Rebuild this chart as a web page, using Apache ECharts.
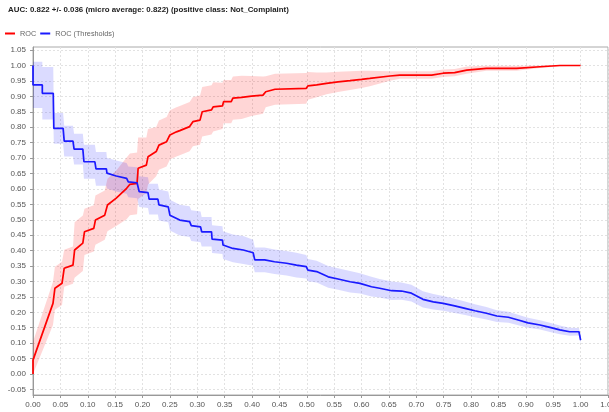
<!DOCTYPE html>
<html>
<head>
<meta charset="utf-8">
<script src="https://cdn.jsdelivr.net/npm/echarts@6/dist/echarts.min.js"></script>
<style>html,body{margin:0;padding:0;background:#fff;overflow:hidden}#c{width:609px;height:412px}</style>
</head>
<body>
<div id="c"></div>
<script>
const titleText = 'AUC: 0.822 +/- 0.036 (micro average: 0.822) (positive class: Not_Complaint)';
const seriesNames = ['ROC', 'ROC (Thresholds)'];

const rocX = [0,0,0.0365,0.040,0.053,0.057,0.073,0.076,0.091,0.094,0.111,0.114,0.131,0.136,0.152,0.171,0.177,0.190,0.192,0.207,0.210,0.225,0.230,0.244,0.250,0.262,0.268,0.286,0.292,0.305,0.309,0.326,0.329,0.346,0.348,0.362,0.365,0.381,0.399,0.420,0.425,0.442,0.499,0.502,0.518,0.536,0.557,0.579,0.600,0.615,0.652,0.670,0.728,0.749,0.770,0.792,0.828,0.883,0.926,0.962,1.0];
const rocY = [0,0.045,0.229,0.278,0.294,0.343,0.353,0.402,0.424,0.461,0.472,0.499,0.515,0.548,0.570,0.602,0.615,0.618,0.667,0.677,0.704,0.721,0.742,0.753,0.775,0.785,0.789,0.802,0.818,0.823,0.850,0.856,0.866,0.869,0.883,0.883,0.894,0.897,0.901,0.904,0.915,0.923,0.926,0.934,0.937,0.942,0.947,0.951,0.955,0.958,0.966,0.969,0.969,0.975,0.977,0.985,0.991,0.991,0.996,1.0,1.0];
const rocBand = [0.03,0.06,0.07,0.07,0.07,0.06,0.06,0.09,0.09,0.075,0.075,0.08,0.08,0.085,0.09,0.1,0.1,0.1,0.1,0.09,0.09,0.08,0.08,0.08,0.08,0.08,0.08,0.08,0.08,0.08,0.08,0.08,0.08,0.075,0.07,0.07,0.07,0.07,0.065,0.06,0.05,0.05,0.05,0.045,0.04,0.035,0.033,0.03,0.028,0.025,0.015,0.012,0.012,0.012,0.012,0.012,0.008,0.008,0.004,0.002,0];

const thrX = [0,0,0.017,0.017,0.037,0.038,0.055,0.057,0.073,0.075,0.091,0.093,0.113,0.115,0.134,0.135,0.152,0.171,0.174,0.190,0.194,0.210,0.212,0.228,0.230,0.247,0.250,0.268,0.286,0.289,0.306,0.308,0.326,0.327,0.346,0.347,0.365,0.384,0.402,0.405,0.423,0.441,0.463,0.481,0.499,0.502,0.518,0.539,0.557,0.579,0.597,0.618,0.633,0.655,0.673,0.691,0.712,0.731,0.749,0.770,0.789,0.807,0.828,0.847,0.868,0.886,0.904,0.926,0.944,0.962,0.980,0.997,1.0];
const thrY = [1.0,0.937,0.937,0.910,0.910,0.796,0.796,0.755,0.755,0.729,0.729,0.688,0.688,0.665,0.665,0.651,0.642,0.634,0.623,0.620,0.591,0.588,0.567,0.567,0.548,0.542,0.515,0.499,0.494,0.481,0.477,0.461,0.461,0.437,0.434,0.418,0.407,0.402,0.393,0.370,0.370,0.364,0.359,0.353,0.348,0.337,0.332,0.315,0.308,0.299,0.294,0.283,0.278,0.270,0.269,0.262,0.242,0.234,0.229,0.221,0.213,0.205,0.197,0.188,0.184,0.175,0.166,0.159,0.151,0.143,0.137,0.137,0.110];
const thrBand = [0.07,0.075,0.075,0.085,0.085,0.05,0.05,0.05,0.05,0.05,0.05,0.055,0.055,0.055,0.055,0.05,0.05,0.05,0.05,0.05,0.05,0.05,0.05,0.05,0.05,0.05,0.05,0.05,0.05,0.05,0.05,0.048,0.048,0.045,0.045,0.045,0.045,0.045,0.042,0.04,0.04,0.04,0.04,0.04,0.038,0.036,0.035,0.035,0.035,0.035,0.033,0.032,0.03,0.03,0.028,0.027,0.026,0.025,0.024,0.023,0.022,0.021,0.02,0.019,0.018,0.017,0.016,0.015,0.015,0.014,0.013,0.012,0.012];

const yTicks = [-0.05,0,0.05,0.10,0.15,0.20,0.25,0.30,0.35,0.40,0.45,0.50,0.55,0.60,0.65,0.70,0.75,0.80,0.85,0.90,0.95,1.00,1.05];

function pairs(xs, ys) { return xs.map((x, i) => [x, ys[i]]); }

function bandRender(xs, ys, ws, color) {
  return function (params, api) {
    const pts = [];
    for (let i = 0; i < xs.length; i++) pts.push(api.coord([xs[i], ys[i] + ws[i]]));
    for (let i = xs.length - 1; i >= 0; i--) pts.push(api.coord([xs[i], Math.max(0, ys[i] - ws[i])]));
    return { type: 'polygon', shape: { points: pts }, style: { fill: color }, silent: true };
  };
}

const FONT = 'Liberation Sans, Arial, sans-serif';
const chart = echarts.init(document.getElementById('c'), null, { renderer: 'canvas' });
chart.setOption({
  animation: false,
  backgroundColor: '#fff',
  title: {
    text: titleText, left: 8, top: 6, padding: 0,
    textStyle: { fontSize: 7.9, fontWeight: 'bold', color: '#222', fontFamily: FONT }
  },
  legend: {
    data: seriesNames, left: 5, top: 30, padding: 0, icon: 'rect', itemWidth: 10, itemHeight: 2, itemGap: 4,
    textStyle: { fontSize: 7.3, color: '#666', fontFamily: FONT }
  },
  grid: { left: 33, right: 1, top: 47, bottom: 17, show: true, borderColor: '#aaa', borderWidth: 1, containLabel: false, outerBoundsMode: 'none' },
  xAxis: {
    type: 'value', min: 0, max: 1.05, interval: 0.05,
    axisLine: { show: true, onZero: false, lineStyle: { color: '#999' } },
    axisTick: { show: true, length: 3, lineStyle: { color: '#999' } },
    axisLabel: { fontSize: 8, color: '#555', fontFamily: FONT, margin: 6, formatter: v => v.toFixed(2) },
    splitLine: { show: true, lineStyle: { color: '#e2e2e2', type: [2, 2] } }
  },
  yAxis: {
    type: 'value', min: -0.068, max: 1.06,
    axisLine: { show: true, onZero: false, lineStyle: { color: '#999' } },
    axisTick: { show: true, length: 3, lineStyle: { color: '#999' }, customValues: yTicks },
    axisLabel: { fontSize: 8, color: '#555', fontFamily: FONT, margin: 7, customValues: yTicks, formatter: v => v.toFixed(2) },
    splitLine: { show: true, lineStyle: { color: '#e2e2e2', type: [2, 2] } }
  },
  series: [
    { name: 'rocBand', type: 'custom', data: [[0, 0]], renderItem: bandRender(rocX, rocY, rocBand, 'rgba(255,0,0,0.16)'), z: 1 },
    { name: 'thrBand', type: 'custom', data: [[0, 0]], renderItem: bandRender(thrX, thrY, thrBand, 'rgba(0,0,255,0.14)'), z: 1 },
    { name: seriesNames[0], type: 'line', data: pairs(rocX, rocY), showSymbol: false, color: '#ff0000', lineStyle: { width: 1.7, color: '#ff0000' }, z: 3 },
    { name: seriesNames[1], type: 'line', data: pairs(thrX, thrY), showSymbol: false, color: '#1a1aff', lineStyle: { width: 1.7, color: '#1a1aff' }, z: 3 }
  ]
});
</script>
</body>
</html>
